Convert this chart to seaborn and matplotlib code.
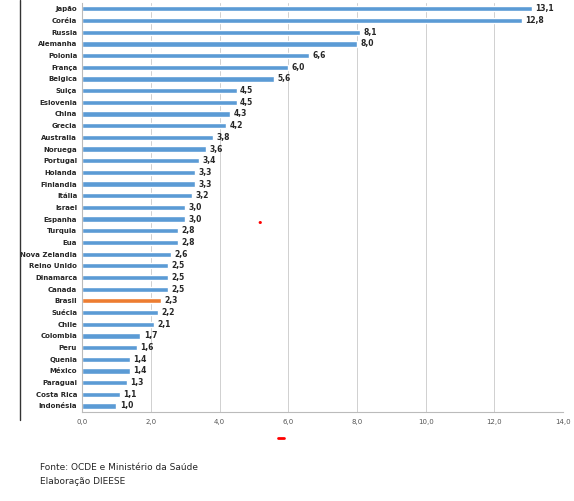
import matplotlib
matplotlib.use("Agg")
import matplotlib.pyplot as plt
import seaborn as sns
import pandas as pd

countries = ["Japão","Coréia","Russia","Alemanha","Polonia","França","Belgica","Suiça","Eslovenia","China",
             "Grecia","Australia","Noruega","Portugal","Holanda","Finlandia","Itália","Israel","Espanha","Turquia",
             "Eua","Nova Zelandia","Reino Unido","Dinamarca","Canada","Brasil","Suécia","Chile","Colombia","Peru",
             "Quenia","México","Paraguai","Costa Rica","Indonésia"]
values = [13.1,12.8,8.1,8.0,6.6,6.0,5.6,4.5,4.5,4.3,4.2,3.8,3.6,3.4,3.3,3.3,3.2,3.0,3.0,2.8,
          2.8,2.6,2.5,2.5,2.5,2.3,2.2,2.1,1.7,1.6,1.4,1.4,1.3,1.1,1.0]
xticks = [0,2,4,6,8,10,12,14]

df = pd.DataFrame({"country": countries, "value": values})
colors = ["#ED7D31" if c == "Brasil" else "#5B9BD5" for c in countries]

sns.set_style("white")
fig = plt.figure(figsize=(5.74, 5.01), dpi=100)
ax = fig.add_axes([0.143, 0.178, 0.838, 0.816])
sns.barplot(data=df, y="country", x="value", hue="country", palette=colors, legend=False,
            width=0.45, ax=ax, saturation=1)
for i, v in enumerate(values):
    ax.text(v + 0.1, i, f"{v:.1f}".replace(".", ","), va="center", ha="left", fontsize=5.5, fontweight="bold")
ax.set_xlim(0, 14)
ax.set_xticks(xticks)
ax.set_xticklabels([f"{t:.1f}".replace(".", ",") for t in xticks], fontsize=5, color="#555555")
ax.tick_params(axis="y", labelsize=5, length=0)
for lbl in ax.get_yticklabels():
    lbl.set_fontweight("bold")
ax.set_xlabel(""); ax.set_ylabel("")
ax.grid(axis="x", color="#d0d0d0", linewidth=0.7)
ax.set_axisbelow(True)
for s in ["top", "right"]:
    ax.spines[s].set_visible(False)
ax.spines["left"].set_color("#bbbbbb")
ax.spines["bottom"].set_color("#bbbbbb")
ax.tick_params(axis="x", length=2, color="#bbbbbb")

fig.add_artist(plt.Line2D([20/574, 20/574], [1, 1-420/501], color="#333333", linewidth=1))
fig.text(260/574, 1-223/501, "•", color="red", fontsize=8, ha="center", va="center")
fig.add_artist(plt.Line2D([278/574, 284/574], [1-438/501]*2, color="red", linewidth=2))
fig.text(40/574, 1-467/501, "Fonte: OCDE e Ministério da Saúde", fontsize=6.5, va="center")
fig.text(40/574, 1-482/501, "Elaboração DIEESE", fontsize=6.5, va="center")
fig.savefig("out.png", dpi=100)
